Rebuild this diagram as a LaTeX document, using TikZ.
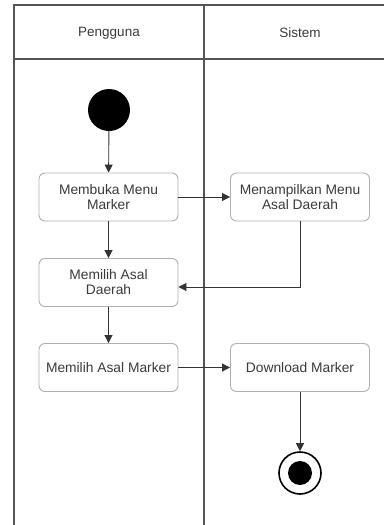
\documentclass[tikz,border=0pt]{standalone}
\usepackage{fontspec}
\setmainfont{Liberation Sans}
\usetikzlibrary{arrows.meta}
\definecolor{lane}{HTML}{555555}
\definecolor{boxline}{HTML}{B0B0B0}
\definecolor{txt}{HTML}{3A3A3A}
\tikzset{
  act/.style={draw=boxline, line width=0.9pt, rounded corners=6pt, minimum width=139pt, minimum height=48pt, align=center, inner sep=1pt, text=txt, font=\fontsize{13.8}{15}\selectfont},
  hdr/.style={text=txt, font=\fontsize{13.5}{15}\selectfont},
  flow/.style={draw=black!80, line width=0.9pt, -{Triangle[length=8pt,width=8pt]}},
  laneline/.style={draw=lane, line width=1.6pt}
}
\begin{document}
\begin{tikzpicture}[x=1pt,y=-1pt]
\useasboundingbox (0,0) rectangle (384,525);
% swimlanes
\draw[laneline] (14,525) -- (14,5) -- (384,5);
\draw[laneline] (14,59) -- (384,59);
\draw[laneline, line width=2.2pt] (204,5) -- (204,525);
\node[hdr] (h1) at (109,33) {Pengguna};
\node[hdr] (h2) at (300,33) {Sistem};
% nodes
\node[circle, fill=black, minimum size=42pt, inner sep=0pt] (start) at (109,110) {};
\node[act] (b1) at (108.5,197) {Membuka Menu\\Marker};
\node[act] (b2) at (300,197) {Menampilkan Menu\\Asal Daerah};
\node[act] (b3) at (108.5,282.5) {Memilih Asal\\Daerah};
\node[act] (b4) at (108.5,367.5) {Memilih Asal Marker};
\node[act] (b5) at (300,367.5) {Download Marker};
\node[circle, draw=black, line width=1.6pt, minimum size=42pt, inner sep=0pt] (end) at (300,473) {};
\node[circle, fill=black, minimum size=24pt, inner sep=0pt] (endin) at (300,473) {};
\coordinate (c1) at (300,287);
% flows
\draw[flow] (start) -- (b1);
\draw[flow] (b1) -- (b3);
\draw[flow] (b3) -- (b4);
\draw[flow] (b1) -- (b2);
\draw[flow] (b2.south) -- (c1) -- (b3.east |- c1);
\draw[flow] (b4) -- (b5);
\draw[flow] (b5) -- (end);
\end{tikzpicture}
\end{document}
